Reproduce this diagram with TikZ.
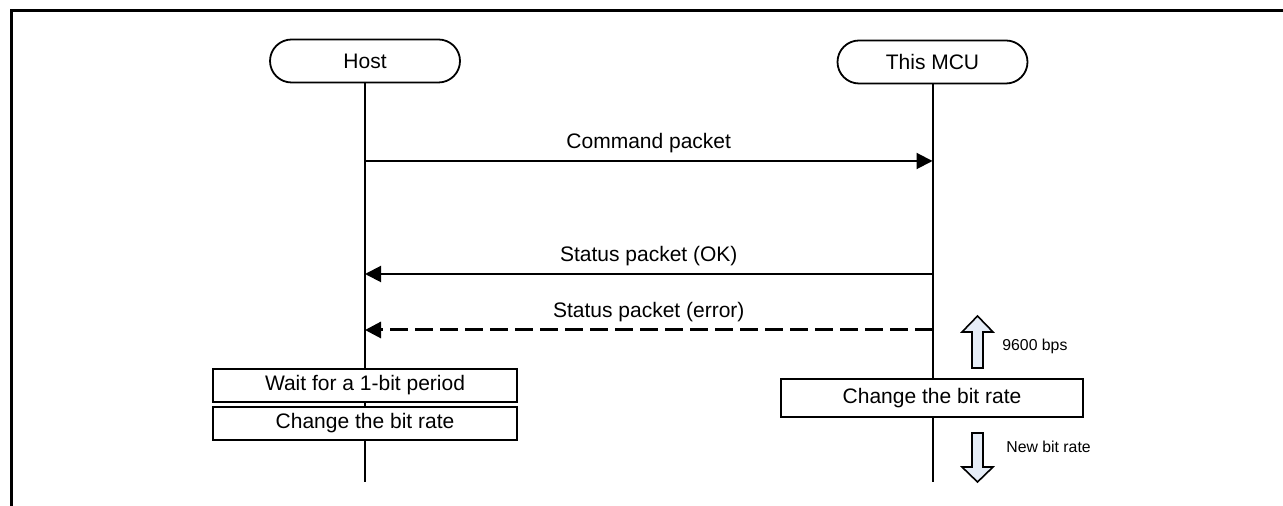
\documentclass[tikz,border=0pt]{standalone}
\usepackage{fontspec}
\setmainfont{Liberation Sans}
\usetikzlibrary{arrows.meta,shapes.misc}
\definecolor{blockfill}{HTML}{E6EDF7}
\begin{document}
\begin{tikzpicture}[x=0.5pt,y=-0.5pt,
  actor/.style={draw, line width=0.9pt, rounded rectangle, minimum width=95pt, minimum height=21.5pt, inner sep=0pt, fill=white, font=\fontsize{10.5}{12}\selectfont},
  procbox/.style={draw, line width=1pt, fill=white, inner sep=0pt, font=\fontsize{10.5}{12}\selectfont},
  lifeline/.style={line width=1pt},
  msg/.style={line width=1pt, -{Triangle[length=8pt,width=8pt]}},
  errmsg/.style={line width=1.5pt, dash pattern=on 9pt off 3.5pt, -{Triangle[length=8pt,width=8pt]}},
  msglabel/.style={font=\fontsize{10.5}{12}\selectfont, above=0pt},
  smalllabel/.style={font=\fontsize{7.9}{9}\selectfont, anchor=west, inner sep=0pt},
  blockarrow/.style={draw, line width=0.8pt, fill=blockfill, line join=miter}]
\useasboundingbox (0,0) rectangle (1283,506);
\fill[white] (0,0) rectangle (1283,506);
% frame
\draw[line width=1.5pt, line join=miter] (11,506) -- (11,11) -- (1283,11);
% actors
\node[actor] (host) at (365,61) {Host};
\node[actor] (mcu) at (932.5,62) {This MCU};
\coordinate (hostend) at (365,482);
\coordinate (mcuend) at (932.5,482);
\draw[lifeline] (host.south) -- (hostend);
\draw[lifeline] (mcu.south) -- (mcuend);
% message points
\coordinate (h1) at (365,161);
\coordinate (m1) at (932.5,161);
\coordinate (h2) at (365,274);
\coordinate (m2) at (932.5,274);
\coordinate (h3) at (365,330);
\coordinate (m3) at (932.5,330);
\draw[msg] (h1) -- node[msglabel] {Command packet} (m1);
\draw[msg] (m2) -- node[msglabel] {Status packet (OK)} (h2);
\draw[errmsg] (m3) -- node[msglabel] {Status packet (error)} (h3);
% host boxes
\node[procbox, minimum width=152pt, minimum height=16.5pt] (wait) at (365,385.5) {Wait for a 1-bit period};
\node[procbox, minimum width=152pt, minimum height=16.5pt] (hchange) at (365,423.5) {Change the bit rate};
% mcu box
\node[procbox, minimum width=151pt, minimum height=19pt] (mchange) at (932,398) {Change the bit rate};
% block arrows
\draw[blockarrow] (977.5,316) -- (993,332) -- (983,332) -- (983,368) -- (972,368) -- (972,332) -- (962,332) -- cycle;
\draw[blockarrow] (972,433) -- (983,433) -- (983,467) -- (993,467) -- (977.5,482) -- (962,467) -- (972,467) -- cycle;
\node[smalllabel] (up) at (1002,346) {9600 bps};
\node[smalllabel] (down) at (1006,447) {New bit rate};
\end{tikzpicture}
\end{document}
